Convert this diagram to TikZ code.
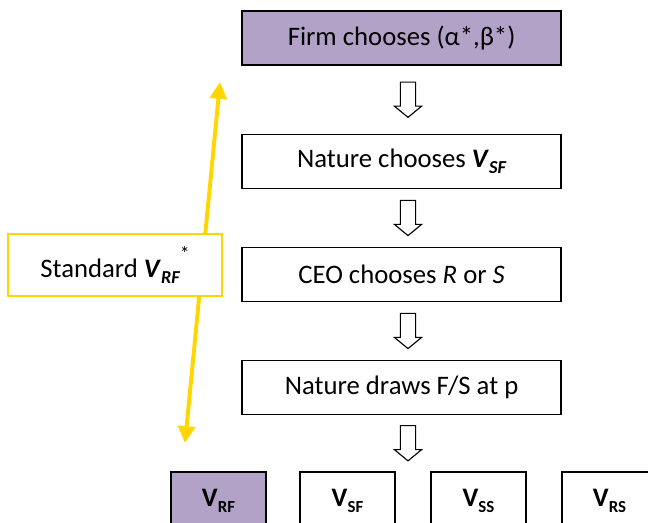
\documentclass[tikz,border=0pt]{standalone}
\usepackage{fontspec}
\setmainfont{Carlito}
\usetikzlibrary{arrows.meta,calc}
\definecolor{lilac}{RGB}{178,162,199}
\definecolor{gold}{RGB}{255,214,0}
\newcommand{\sbx}[2][13]{\raisebox{-0.45ex}{\fontsize{#1}{#1}\selectfont #2}}
\newcommand{\vsym}[1]{\textbf{\textit{V}}\sbx{\bfseries\itshape #1}}

\begin{document}
\begin{tikzpicture}[
  font=\fontsize{19}{22}\selectfont,
  stage/.style={draw,line width=1pt,minimum width=7.975cm,minimum height=1.35cm,align=center,fill=white},
  payoff/.style={draw,line width=1pt,minimum width=2.375cm,minimum height=1.45cm,fill=white,font=\fontsize{19}{22}\selectfont\bfseries},
  note/.style={draw=gold,line width=1.3pt,fill=white,minimum width=5.35cm,minimum height=1.55cm},
  yar/.style={{Triangle[width=12pt,length=12pt]}-{Triangle[width=12pt,length=12pt]},draw=gold,fill=gold,line width=2.8pt},
  down/.pic={\draw[line width=0.8pt,fill=white] (-0.19,0.44) -- (-0.19,-0.16) -- (-0.34,-0.16) -- (0,-0.44) -- (0.34,-0.16) -- (0.19,-0.16) -- (0.19,0.44) -- cycle;}
]
\useasboundingbox (0,0) rectangle (16.2,13.05);
\clip (0,0) rectangle (16.2,13.05);
% game stages
\node[stage,fill=lilac] (firm) at (10.04,12.1)   {Firm chooses (α*,β*)};
\node[stage]            (sf)   at (10.04,9.0125) {Nature chooses \vsym{SF}};
\node[stage]            (ceo)  at (10.04,6.1875) {CEO chooses \textit{R} or \textit{S}};
\node[stage]            (draw) at (10.04,3.3625) {Nature draws F/S at p};
% outcomes
\node[payoff,fill=lilac] (vrf) at (5.4625,0.525)  {V\sbx[12]{RF}};
\node[payoff]            (vsf) at (8.6875,0.525)  {V\sbx[12]{SF}};
\node[payoff]            (vss) at (11.9625,0.525) {V\sbx[12]{SS}};
\node[payoff]            (vrs) at (15.2375,0.525) {V\sbx[12]{RS}};
\foreach \a/\b in {firm/sf,sf/ceo,ceo/draw,draw/vss}
  \path ($(\a.south)!0.5!(\a.south|-\b.north)+(0.16,0)$) pic {down};
% benchmark
\coordinate (ytop) at (5.5,11.0);
\coordinate (ybot) at (4.625,1.975);
\draw[yar] (ytop) -- (ybot);
\node[note] (std) at (2.875,6.425) {Standard \vsym{RF}\raisebox{1.3ex}{\fontsize{14}{14}\selectfont *}};
\end{tikzpicture}
\end{document}
